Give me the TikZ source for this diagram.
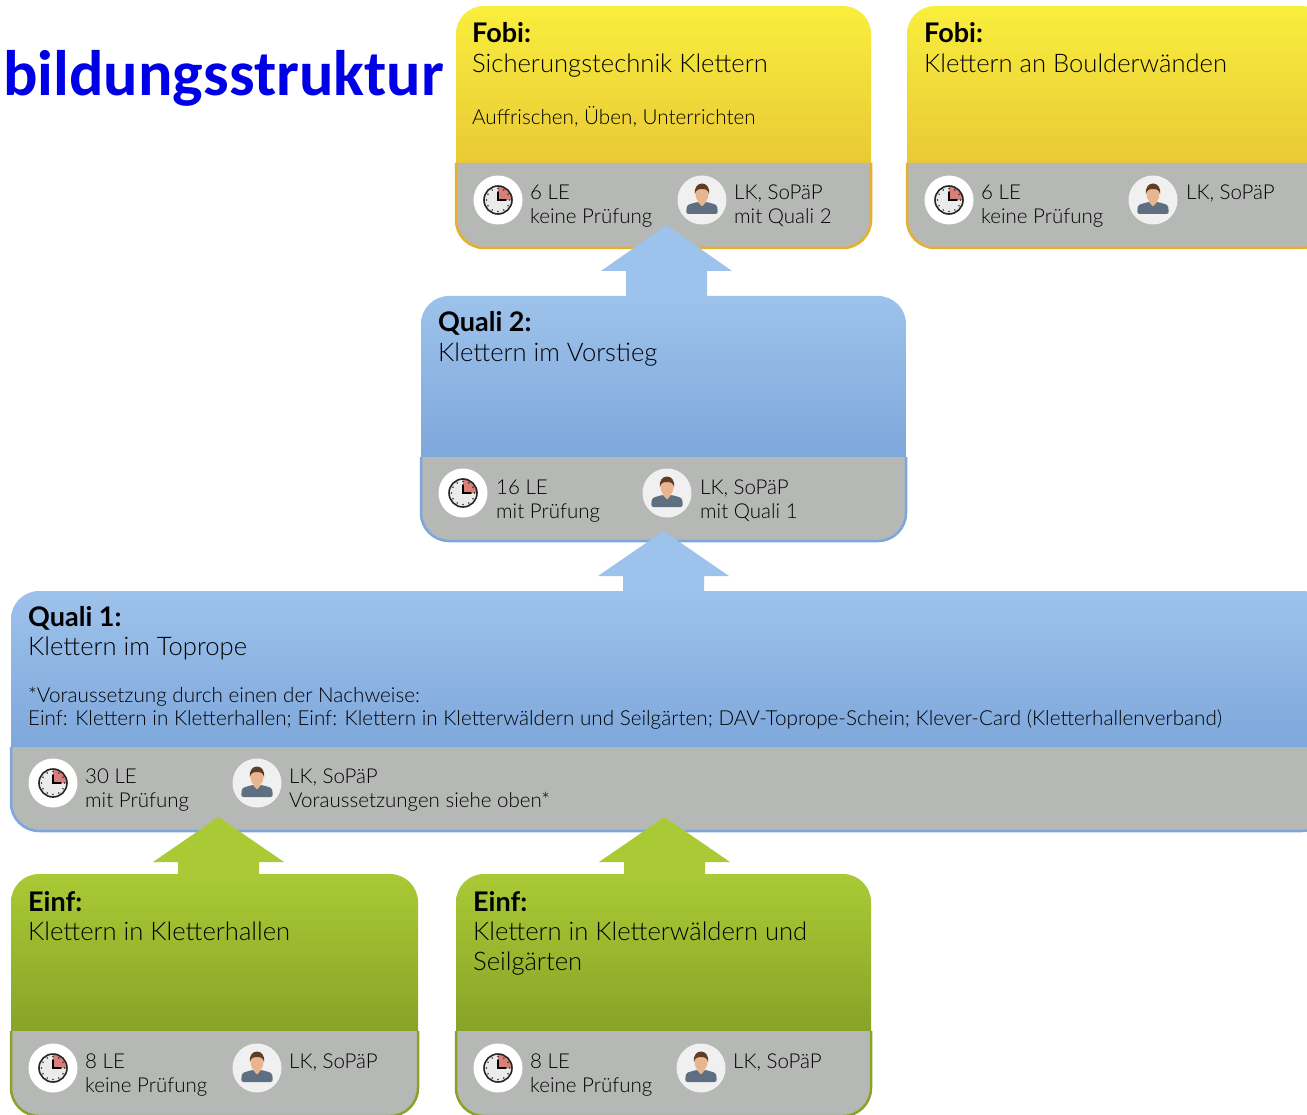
\documentclass[tikz,border=0pt]{standalone}
\usepackage{fontspec}
\setmainfont{Lato Light}[BoldFont={Lato Bold}]
\newfontfamily\titlefont{Carlito}[BoldFont={Carlito Bold}]
\definecolor{yelT}{HTML}{F9EE3D}\definecolor{yelB}{HTML}{E9C936}\definecolor{yelL}{HTML}{E5B02E}
\definecolor{bluT}{HTML}{9DC2EB}\definecolor{bluB}{HTML}{7EA7DB}\definecolor{bluL}{HTML}{7CA6DC}
\definecolor{greT}{HTML}{A9CA35}\definecolor{greB}{HTML}{88A328}\definecolor{greL}{HTML}{88A328}
\definecolor{cardgrey}{HTML}{B6B8B6}
\definecolor{clockred}{HTML}{D77F78}\definecolor{hair}{HTML}{5E3F26}\definecolor{skin}{HTML}{E8B58F}
\definecolor{shirt}{HTML}{5F6F82}\definecolor{titleblue}{HTML}{0000E6}\definecolor{txt}{HTML}{000000}
\tikzset{
 headtext/.style={anchor=base west,inner sep=0pt,font=\fontsize{25.6}{30}\selectfont,text=black},
 headbold/.style={anchor=base west,inner sep=0pt,font=\fontsize{27}{30}\selectfont\bfseries,text=black},
 subtext/.style={anchor=base west,inner sep=0pt,font=\fontsize{20.65}{24}\selectfont,text=txt},
 infotext/.style={anchor=base west,inner sep=0pt,font=\fontsize{20.5}{24}\selectfont,text=txt},
 iconbg/.style={circle,minimum size=49pt,inner sep=0pt},
}
\newcommand{\cardbox}[9]{% name,x0,y0,x1,ymid,y1,top,bottom,line
 \shade[top color=#7,bottom color=#8] (#2,#5) [rounded corners=28pt] -- (#2,#3) -- (#4,#3) [sharp corners] -- (#4,#5) -- cycle;
 \fill[cardgrey] (#2,#5) -- (#4,#5) [rounded corners=28pt] -- (#4,#6) -- (#2,#6) [sharp corners] -- cycle;
 \draw[#9,line width=2.5pt] (#2,#5) [rounded corners=28pt] -- (#2,#6) -- (#4,#6) [sharp corners] -- (#4,#5);
 \coordinate (#1) at (#2,#3);
}
\newcommand{\iconpair}[5]{% name, clock x, person x, y, (unused)
 \node[iconbg,fill=white] (#1c) at (#2,#4) {};
 \begin{scope}[shift={(#1c.center)}]
  \fill[black!8] (0,0) circle[radius=14pt];
  \fill[clockred] (0,0) -- (0,-14) arc[start angle=90,end angle=0,radius=14pt] -- cycle;
  \draw[black!85,line width=1.6pt] (0,0) circle[radius=14pt];
  \foreach \a in {0,30,...,330} \fill[black!80] (\a:11.5pt) circle[radius=0.8pt];
  \draw[black,line width=1.6pt,line cap=round] (0,-8) -- (0,0) -- (8,0);
 \end{scope}
 \node[iconbg,fill=black!6] (#1p) at (#3,#4) {};
 \begin{scope}[shift={(#1p.center)}]
  \fill[skin] (-3,3) rectangle (3,9);
  \fill[shirt,rounded corners=2.5pt] (-16,14) -- (-15,5) -- (-5,2) -- (5,2) -- (15,5) -- (16,14) -- cycle;
  \fill[skin] (-4.5,1.5) -- (4.5,1.5) -- (0,6.5) -- cycle;
  \fill[skin] (0,-6) ellipse[x radius=6.5pt,y radius=9pt];
  \fill[hair] (-7,-6) .. controls (-9,-20) and (9,-20) .. (7,-6) .. controls (6,-10) and (4,-11) .. (0,-11) .. controls (-4,-11) and (-6,-10) .. (-7,-6) -- cycle;
 \end{scope}
}
\newcommand{\blockarrow}[6]{% name,x,tipy,basey,bottomy,color
 \coordinate (#1) at (#2,#3);
 \fill[#6] (#1) -- ++(65.5,#4-#3) -- ++(-25,0) -- ++(0,#5-#4) -- ++(-81,0) -- ++(0,#4-#5) -- ++(-25,0) -- cycle;
}
\begin{document}
\begin{tikzpicture}[x=1pt,y=-1pt]
\useasboundingbox (0,0) rectangle (1307,1115);
\clip (0,0) rectangle (1307,1115);
\cardbox{fobiA}{456}{6}{871}{163}{248}{yelT}{yelB}{yelL}
\cardbox{fobiB}{907}{6}{1330}{163}{248}{yelT}{yelB}{yelL}
\cardbox{qualiB}{421}{296}{906}{457}{541}{bluT}{bluB}{bluL}
\cardbox{qualiA}{11}{591}{1330}{747}{831}{bluT}{bluB}{bluL}
\cardbox{einfA}{11}{874}{418}{1031}{1116}{greT}{greB}{greL}
\cardbox{einfB}{456}{874}{871}{1031}{1116}{greT}{greB}{greL}
\blockarrow{arrA}{666.5}{225}{271}{296}{bluT}
\blockarrow{arrB}{663.5}{531}{576}{591}{bluT}
\blockarrow{arrC}{218.5}{817}{862}{875}{greT}
\blockarrow{arrD}{664.5}{817}{862}{875}{greT}
\iconpair{fa}{498}{702}{200}{}
\iconpair{fb}{949}{1153}{200}{}
\iconpair{qb}{463}{667}{493}{}
\iconpair{qa}{53}{257}{783}{}
\iconpair{ea}{53}{257}{1068}{}
\iconpair{eb}{498}{701}{1068}{}
\node[anchor=base west,inner sep=0pt,font=\titlefont\bfseries\fontsize{64.3}{70}\selectfont,text=titleblue] (title) at (3,96) {bildungsstruktur};
% Fobi A
\node[headbold] (t1) at (472,43) {Fobi:};
\node[headtext] (t2) at (472,73) {Sicherungstechnik Klettern};
\node[subtext] (t3) at (472,125) {Auffrischen, Üben, Unterrichten};
\node[infotext] (t4) at (530,200) {6 LE};
\node[infotext] (t5) at (530,224) {keine Prüfung};
\node[infotext] (t6) at (734,200) {LK, SoPäP};
\node[infotext] (t7) at (734,224) {mit Quali 2};
% Fobi B
\node[headbold] (t8) at (924,43) {Fobi:};
\node[headtext] (t9) at (924,73) {Klettern an Boulderwänden};
\node[infotext] (t10) at (981,200) {6 LE};
\node[infotext] (t11) at (981,224) {keine Prüfung};
\node[infotext] (t12) at (1186,200) {LK, SoPäP};
% Quali 2
\node[headbold] (t13) at (438,332) {Quali 2:};
\node[headtext] (t14) at (438,362) {Klettern im Vorstieg};
\node[infotext] (t15) at (496,494) {16 LE};
\node[infotext] (t16) at (496,518) {mit Prüfung};
\node[infotext] (t17) at (700,494) {LK, SoPäP};
\node[infotext] (t18) at (700,518) {mit Quali 1};
% Quali 1
\node[headbold] (t19) at (28,626) {Quali 1:};
\node[headtext] (t20) at (28,655) {Klettern im Toprope};
\node[subtext] (t21) at (28,702) {*Voraussetzung durch einen der Nachweise:};
\node[subtext] (t22) at (28,725) {Einf: Klettern in Kletterhallen; Einf: Klettern in Kletterwäldern und Seilgärten; DAV-Toprope-Schein; Klever-Card (Kletterhallenverband)};
\node[infotext] (t23) at (85,783) {30 LE};
\node[infotext] (t24) at (85,807) {mit Prüfung};
\node[infotext] (t25) at (289,783) {LK, SoPäP};
\node[infotext] (t26) at (289,807) {Voraussetzungen siehe oben*};
% Einf A
\node[headbold] (t27) at (28,911) {Einf:};
\node[headtext] (t28) at (28,940) {Klettern in Kletterhallen};
\node[infotext] (t29) at (85,1068) {8 LE};
\node[infotext] (t30) at (85,1092) {keine Prüfung};
\node[infotext] (t31) at (289,1068) {LK, SoPäP};
% Einf B
\node[headbold] (t32) at (473,911) {Einf:};
\node[headtext] (t33) at (473,940) {Klettern in Kletterwäldern und};
\node[headtext] (t34) at (473,970) {Seilgärten};
\node[infotext] (t35) at (530,1068) {8 LE};
\node[infotext] (t36) at (530,1092) {keine Prüfung};
\node[infotext] (t37) at (733,1068) {LK, SoPäP};
\end{tikzpicture}
\end{document}
